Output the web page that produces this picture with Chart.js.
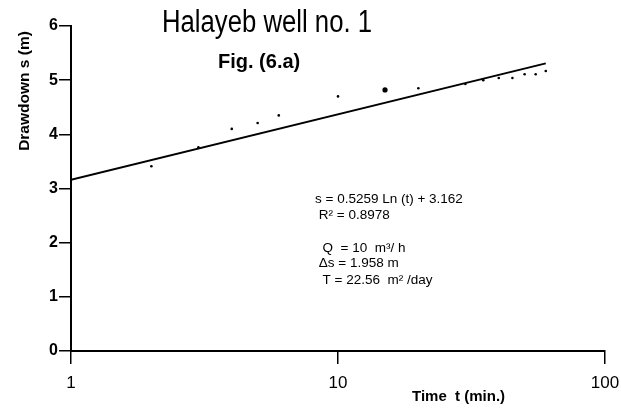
<!DOCTYPE html>
<html>
<head>
<meta charset="utf-8">
<script src="https://cdn.jsdelivr.net/npm/chart.js@4/dist/chart.umd.min.js"></script>
<style>
html,body{margin:0;padding:0;background:#fff;}
#wrap{width:621px;height:411px;}
</style>
</head>
<body>
<div id="wrap"><canvas id="c" width="621" height="411"></canvas></div>
<script>
// Observed data: time (min) and drawdown (m)
const timeMin = [2, 3, 4, 5, 6, 10, 15, 20, 30, 35, 40, 45, 50, 55, 60];
const drawdown = [3.41, 3.76, 4.10, 4.21, 4.35, 4.70, 4.82, 4.85, 4.93, 5.00, 5.04, 5.04, 5.11, 5.11, 5.17];
// Fitted trend line end points (s = 0.5259 Ln(t) + 3.162)
const trendTime = [1, 60];
const trendDrawdown = [3.16, 5.31];
// Axis ticks
const xTicks = [1, 10, 100];
const yTicks = [0, 1, 2, 3, 4, 5, 6];
// Texts
const titleText = 'Halayeb well no. 1';
const subTitleText = 'Fig. (6.a)';
const yTitle = 'Drawdown s (m)';
const xTitle = 'Time  t (min.)';
const noteLines = ['s = 0.5259 Ln (t) + 3.162', ' R² = 0.8978', '', '  Q  = 10  m³/ h', ' Δs = 1.958 m', '  T = 22.56  m² /day'];

const pts = timeMin.map((t, i) => ({x: t, y: drawdown[i]}));
const trend = trendTime.map((t, i) => ({x: t, y: trendDrawdown[i]}));

const textPlugin = {
  id: 'texts',
  afterDraw(chart) {
    const ctx = chart.ctx;
    ctx.save();
    ctx.fillStyle = '#000';
    ctx.textBaseline = 'middle';
    ctx.textAlign = 'left';
    // condensed title
    ctx.save();
    ctx.font = '31px "Liberation Sans", Arial, sans-serif';
    const w = ctx.measureText(titleText).width;
    ctx.translate(162, 23);
    ctx.scale(210 / w, 1);
    ctx.fillText(titleText, 0, 0);
    ctx.restore();
    ctx.font = 'bold 20px "Liberation Sans", Arial, sans-serif';
    ctx.fillText(subTitleText, 218, 62);
    ctx.font = '13.5px "Liberation Sans", Arial, sans-serif';
    const ys = [199, 215, 231, 248, 263, 280];
    noteLines.forEach((l, i) => { if (l) ctx.fillText(l, 315, ys[i]); });
    ctx.font = 'bold 15px "Liberation Sans", Arial, sans-serif';
    ctx.fillText(xTitle, 412, 397);
    ctx.translate(25, 91);
    ctx.rotate(-Math.PI / 2);
    ctx.textAlign = 'center';
    ctx.font = 'bold 15.5px "Liberation Sans", Arial, sans-serif';
    ctx.fillText(yTitle, 0, 0);
    ctx.restore();
  }
};

new Chart(document.getElementById('c'), {
  type: 'scatter',
  data: {
    datasets: [
      {
        label: 'trend',
        data: trend,
        showLine: true,
        borderColor: '#000',
        borderWidth: 2,
        pointRadius: 0,
        fill: false
      },
      {
        label: 'observed',
        data: pts,
        backgroundColor: '#000',
        borderColor: '#000',
        pointRadius: ctx => (ctx.raw && ctx.raw.x === 15 ? 2.6 : 1.3),
        borderWidth: 0
      }
    ]
  },
  options: {
    responsive: false,
    animation: false,
    devicePixelRatio: 1,
    layout: {padding: {left: 31, right: 16, top: 26, bottom: 20}},
    plugins: {legend: {display: false}, tooltip: {enabled: false}, title: {display: false}},
    scales: {
      x: {
        type: 'logarithmic',
        min: 1,
        max: 100,
        afterBuildTicks: s => { s.ticks = xTicks.map(v => ({value: v})); },
        afterFit: s => { s.height = 40; s.paddingLeft = 0; s.paddingRight = 0; },
        border: {color: '#000', width: 2},
        grid: {drawOnChartArea: false, drawTicks: true, tickLength: 13, color: '#000', lineWidth: 1.5},
        ticks: {
          color: '#000',
          padding: 9,
          maxRotation: 0,
          autoSkip: false,
          font: {family: '"Liberation Sans", Arial, sans-serif', size: 17},
          callback: v => String(v)
        }
      },
      y: {
        type: 'linear',
        min: 0,
        max: 6,
        afterBuildTicks: s => { s.ticks = yTicks.map(v => ({value: v})); },
        afterFit: s => { s.width = 40; s.paddingTop = 0; s.paddingBottom = 0; },
        border: {color: '#000', width: 2},
        grid: {drawOnChartArea: false, drawTicks: true, tickLength: 12, color: '#000', lineWidth: 1.5},
        ticks: {
          color: '#000',
          padding: 1,
          font: {family: '"Liberation Sans", Arial, sans-serif', size: 16, weight: 'bold'},
          callback: v => String(v)
        }
      }
    }
  },
  plugins: [textPlugin]
});
</script>
</body>
</html>
